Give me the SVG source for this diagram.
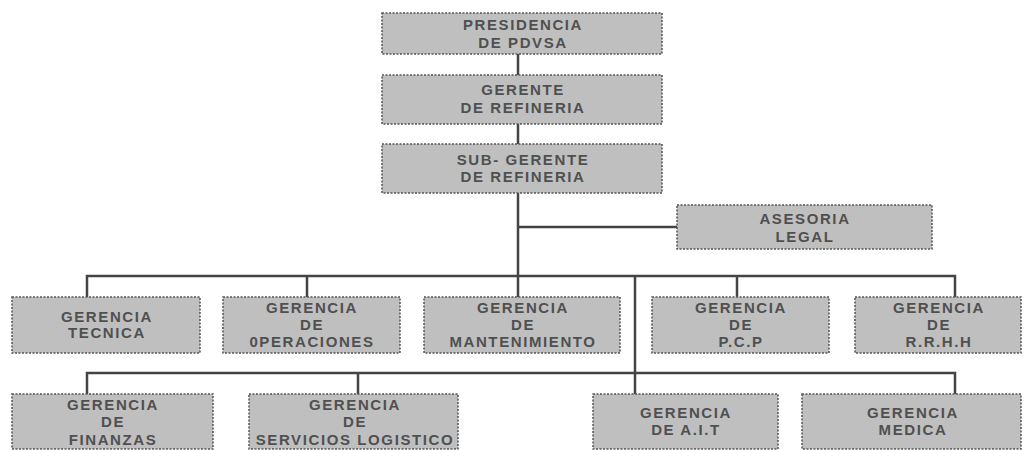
<svg xmlns="http://www.w3.org/2000/svg" width="1024" height="450" viewBox="0 0 1024 450">
<style>
.box{fill:#bfbfbf;stroke:#555;stroke-width:1.5;stroke-dasharray:2 1.5}
.t{font-family:"Liberation Sans",Arial,sans-serif;font-size:15px;font-weight:bold;fill:#505050;text-anchor:middle;letter-spacing:1.6px}
.c{stroke:#444;stroke-width:2.5;fill:none}
</style>
<rect width="1024" height="450" fill="#fff"/>
<g id="connectors">
<path class="c" d="M518 54V75M518 124V144M518 193V297M518 227H677"/>
<path class="c" d="M87 297V276H955V297M307 276V297M737 276V297"/>
<path class="c" d="M635 276V394M87 394V373H955V394M358 373V394"/>
</g>
<g id="presidencia"><rect class="box" x="382" y="13" width="280" height="41"/><text class="t" x="523" y="30">PRESIDENCIA</text><text class="t" x="523" y="48">DE PDVSA</text></g>
<g id="gerente"><rect class="box" x="382" y="75" width="280" height="49"/><text class="t" x="523" y="95">GERENTE</text><text class="t" x="523" y="113">DE REFINERIA</text></g>
<g id="subgerente"><rect class="box" x="382" y="144" width="280" height="49"/><text class="t" x="523" y="165">SUB- GERENTE</text><text class="t" x="523" y="182">DE REFINERIA</text></g>
<g id="asesoria"><rect class="box" x="677" y="205" width="255" height="44"/><text class="t" x="805" y="224">ASESORIA</text><text class="t" x="805" y="242">LEGAL</text></g>
<g id="tecnica"><rect class="box" x="12" y="297" width="188" height="56"/><text class="t" x="107" y="322">GERENCIA</text><text class="t" x="107" y="338">TECNICA</text></g>
<g id="operaciones"><rect class="box" x="223" y="297" width="177" height="56"/><text class="t" x="312" y="313">GERENCIA</text><text class="t" x="312" y="330">DE</text><text class="t" x="312" y="347">0PERACIONES</text></g>
<g id="mantenimiento"><rect class="box" x="424" y="297" width="196" height="56"/><text class="t" x="523" y="313">GERENCIA</text><text class="t" x="523" y="330">DE</text><text class="t" x="523" y="347">MANTENIMIENTO</text></g>
<g id="pcp"><rect class="box" x="652" y="297" width="177" height="56"/><text class="t" x="741" y="313">GERENCIA</text><text class="t" x="741" y="330">DE</text><text class="t" x="741" y="347">P.C.P</text></g>
<g id="rrhh"><rect class="box" x="855" y="297" width="166" height="56"/><text class="t" x="939" y="313">GERENCIA</text><text class="t" x="939" y="330">DE</text><text class="t" x="939" y="347">R.R.H.H</text></g>
<g id="finanzas"><rect class="box" x="12" y="394" width="201" height="55"/><text class="t" x="113" y="410">GERENCIA</text><text class="t" x="113" y="427">DE</text><text class="t" x="113" y="445">FINANZAS</text></g>
<g id="servicios"><rect class="box" x="249" y="394" width="209" height="55"/><text class="t" x="355" y="410">GERENCIA</text><text class="t" x="355" y="427">DE</text><text class="t" x="355" y="445">SERVICIOS LOGISTICO</text></g>
<g id="ait"><rect class="box" x="593" y="394" width="185" height="55"/><text class="t" x="686" y="418">GERENCIA</text><text class="t" x="686" y="435">DE A.I.T</text></g>
<g id="medica"><rect class="box" x="802" y="394" width="219" height="55"/><text class="t" x="913" y="418">GERENCIA</text><text class="t" x="913" y="435">MEDICA</text></g>
</svg>
